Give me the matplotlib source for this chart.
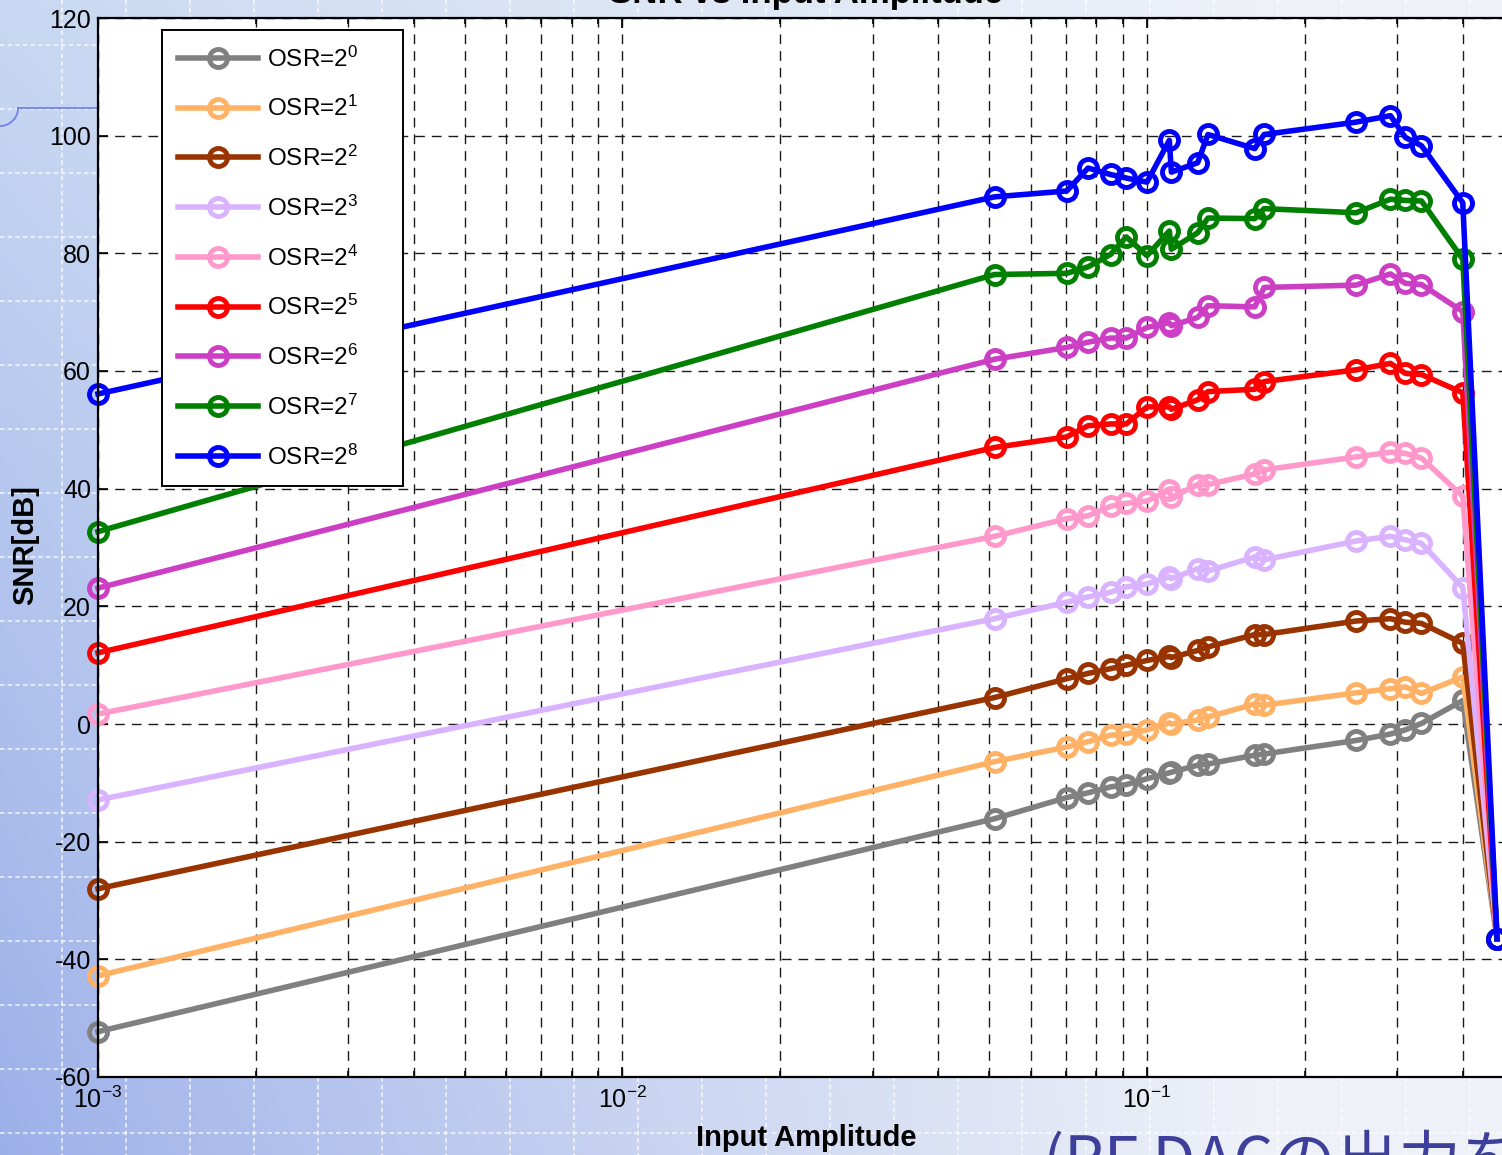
import numpy as np
import matplotlib
matplotlib.use("Agg")
import matplotlib.pyplot as plt
from matplotlib.ticker import LogLocator, NullFormatter, FuncFormatter

plt.rcParams['font.family'] = ['Liberation Sans', 'Noto Sans CJK JP', 'DejaVu Sans']
plt.rcParams['mathtext.default'] = 'regular'
plt.rcParams['axes.unicode_minus'] = False

W, H, DPI = 1502, 1155, 100

# ---- data -------------------------------------------------------------
amplitude = [0.001, 0.0512, 0.0703, 0.0772, 0.0852, 0.0913, 0.1, 0.1103, 0.1113,
             0.1249, 0.1307, 0.1605, 0.1672, 0.2503, 0.2912, 0.3108, 0.3337,
             0.4, 0.465]

snr_osr0 = [-52.3, -16.1, -12.5, -11.7, -10.7, -10.3, -9.3, -8.3, -8.2, -7.0, -6.8,
            -5.3, -5.1, -2.8, -1.7, -1.0, 0.1, 4.0, -36.5]
snr_osr1 = [-42.8, -6.4, -3.9, -3.0, -1.9, -1.7, -1.0, 0.2, 0.0, 0.7, 1.2,
            3.4, 3.2, 5.3, 6.0, 6.3, 5.2, 8.0, -36.5]
snr_osr2 = [-28.0, 4.5, 7.7, 8.6, 9.4, 10.0, 10.8, 11.5, 11.3, 12.5, 13.1,
            15.2, 15.2, 17.5, 17.9, 17.3, 17.1, 13.7, -36.5]
snr_osr3 = [-12.9, 17.9, 20.7, 21.6, 22.4, 23.3, 23.8, 25.0, 24.7, 26.4, 26.0,
            28.4, 27.9, 31.1, 31.9, 31.3, 30.7, 23.2, -36.5]
snr_osr4 = [1.7, 31.9, 34.9, 35.4, 37.0, 37.5, 37.9, 39.7, 38.5, 40.7, 40.7,
            42.5, 43.2, 45.4, 46.2, 46.0, 45.2, 38.7, -36.5]
snr_osr5 = [12.1, 47.0, 48.8, 50.7, 51.0, 51.0, 53.9, 53.9, 53.5, 55.1, 56.5,
            56.9, 58.2, 60.2, 61.3, 59.6, 59.4, 56.3, -36.5]
snr_osr6 = [23.1, 62.0, 64.0, 64.9, 65.6, 65.6, 67.4, 68.2, 67.7, 69.1, 71.1,
            70.9, 74.2, 74.6, 76.5, 74.9, 74.7, 70.1, -36.5]
snr_osr7 = [32.7, 76.4, 76.6, 77.7, 79.8, 82.8, 79.6, 83.8, 80.7, 83.5, 86.0,
            85.9, 87.6, 86.9, 89.2, 89.0, 88.9, 79.0, -36.5]
snr_osr8 = [56.1, 89.6, 90.6, 94.5, 93.4, 92.8, 92.1, 99.2, 93.8, 95.4, 100.2,
            97.8, 100.2, 102.3, 103.4, 99.7, 98.3, 88.6, -36.5]

osr_exponents = [0, 1, 2, 3, 4, 5, 6, 7, 8]
snr_series = [snr_osr0, snr_osr1, snr_osr2, snr_osr3, snr_osr4,
              snr_osr5, snr_osr6, snr_osr7, snr_osr8]
line_colors = ['#808080', '#ffb266', '#993300', '#d9b3ff', '#ff99cc',
               '#ff0000', '#cc3fc4', '#007f00', '#0000ff']

y_ticks = [-60, -40, -20, 0, 20, 40, 60, 80, 100, 120]

# ---- figure & slide backdrop -----------------------------------------
fig = plt.figure(figsize=(W / DPI, H / DPI), dpi=DPI)

bg = fig.add_axes([0, 0, 1, 1], zorder=-10)
yy, xx = np.mgrid[0:H, 0:W].astype(float)
top_left = np.array([200, 216, 242]) / 255
bot_left = np.array([155, 175, 233]) / 255
right_col = np.array([238, 241, 248]) / 255
fy = (yy / H)[..., None]
left_col = top_left * (1 - fy) + bot_left * fy
s = (np.clip(xx / 1250.0, 0, 1) ** 0.9)[..., None]
img = left_col * (1 - s) + right_col * s
bg.imshow(img, extent=(0, W, H, 0), aspect='auto', interpolation='bilinear')
for gx in np.arange(61.6, W, 64.0):
    bg.plot([gx, gx], [0, H], color='white', lw=1.1, ls=(0, (3, 2)), alpha=0.85)
for gy in np.arange(45.0, H, 64.0):
    bg.plot([0, W], [gy, gy], color='white', lw=1.1, ls=(0, (3, 2)), alpha=0.85)
# thin rounded outline ornament at the upper left
r = 18.0
bg.plot([r, 110], [108, 108], color='#6f82ea', lw=1.3)
t = np.linspace(0, np.pi / 2, 40)
bg.plot(r * np.cos(t), 108 + r * np.sin(t), color='#6f82ea', lw=1.3)
bg.set_xlim(0, W)
bg.set_ylim(H, 0)
bg.axis('off')

# ---- main axes --------------------------------------------------------
ax_left, ax_right = 98.0, 1513.6
ax_top, ax_bottom = 18.0, 1077.0
ax = fig.add_axes([ax_left / W, (H - ax_bottom) / H,
                   (ax_right - ax_left) / W, (ax_bottom - ax_top) / H], zorder=1)
ax.set_facecolor('white')
ax.set_xscale('log')
ax.set_xlim(1e-3, 0.5)
ax.set_ylim(-60, 120)

handles = []
for k, vals, col in zip(osr_exponents, snr_series, line_colors):
    ln, = ax.plot(amplitude, vals, color=col, lw=4.0, marker='o', ms=13,
                  mew=3.5, mfc='none', mec=col, clip_on=False,
                  label=f'OSR=2$^{{{k}}}$')
    handles.append(ln)

ax.xaxis.set_major_locator(LogLocator(base=10, numticks=10))
ax.xaxis.set_minor_locator(LogLocator(base=10, subs=np.arange(2, 10), numticks=20))
ax.xaxis.set_minor_formatter(NullFormatter())
ax.xaxis.set_major_formatter(FuncFormatter(lambda v, p: f'$10^{{{int(round(np.log10(v)))}}}$'))
ax.set_yticks(y_ticks)
ax.set_yticklabels([str(v) for v in y_ticks])

ax.set_axisbelow(True)
grid_kw = dict(color='#1a1a1a', lw=1.0, ls=(0, (7, 5)))
ax.grid(True, which='major', axis='both', **grid_kw)
ax.grid(True, which='minor', axis='x', **grid_kw)

ax.tick_params(which='both', direction='in', top=True, right=True,
               labelsize=18, width=1.2, colors='black')
ax.tick_params(which='major', length=7)
ax.tick_params(which='minor', length=4)
ax.tick_params(axis='y', pad=5)
ax.tick_params(axis='x', pad=7)
for sp in ax.spines.values():
    sp.set_linewidth(1.6)
    sp.set_color('black')

# legend block with a fixed frame width
leg_x0, leg_y0, leg_x1, leg_y1 = 162.0, 30.0, 403.0, 482.0
leg = ax.legend(handles=handles, loc='upper left', mode='expand',
                bbox_to_anchor=(leg_x0 / W, (H - leg_y1) / H,
                                (leg_x1 - leg_x0) / W, (leg_y1 - leg_y0) / H),
                bbox_transform=fig.transFigure, borderaxespad=0,
                frameon=True, fancybox=False, framealpha=1, edgecolor='black',
                fontsize=17.5, handlelength=3.3, handletextpad=0.35,
                labelspacing=1.01, borderpad=0.67)
leg.get_frame().set_linewidth(1.4)

# ---- titles & labels --------------------------------------------------
cx = (ax_left + ax_right) / 2 / W
fig.text(cx, 1 - 3 / H, 'SNR vs Input Amplitude', ha='center', va='baseline',
         fontsize=25, fontweight='bold')
fig.text(cx, 1 - 1138 / H, 'Input Amplitude', ha='center', va='center',
         fontsize=21, fontweight='bold')
fig.text(25 / W, 1 - 545 / H, 'SNR[dB]', ha='center', va='center', rotation=90,
         fontsize=21, fontweight='bold')

fig.text(1043 / W, 1 - 1182 / H, '(RF DACの出力を', ha='left', va='baseline',
         fontsize=45, color='#3d3f9b', family=['Noto Sans CJK JP', 'DejaVu Sans'])

fig.savefig('out.png', dpi=DPI)
